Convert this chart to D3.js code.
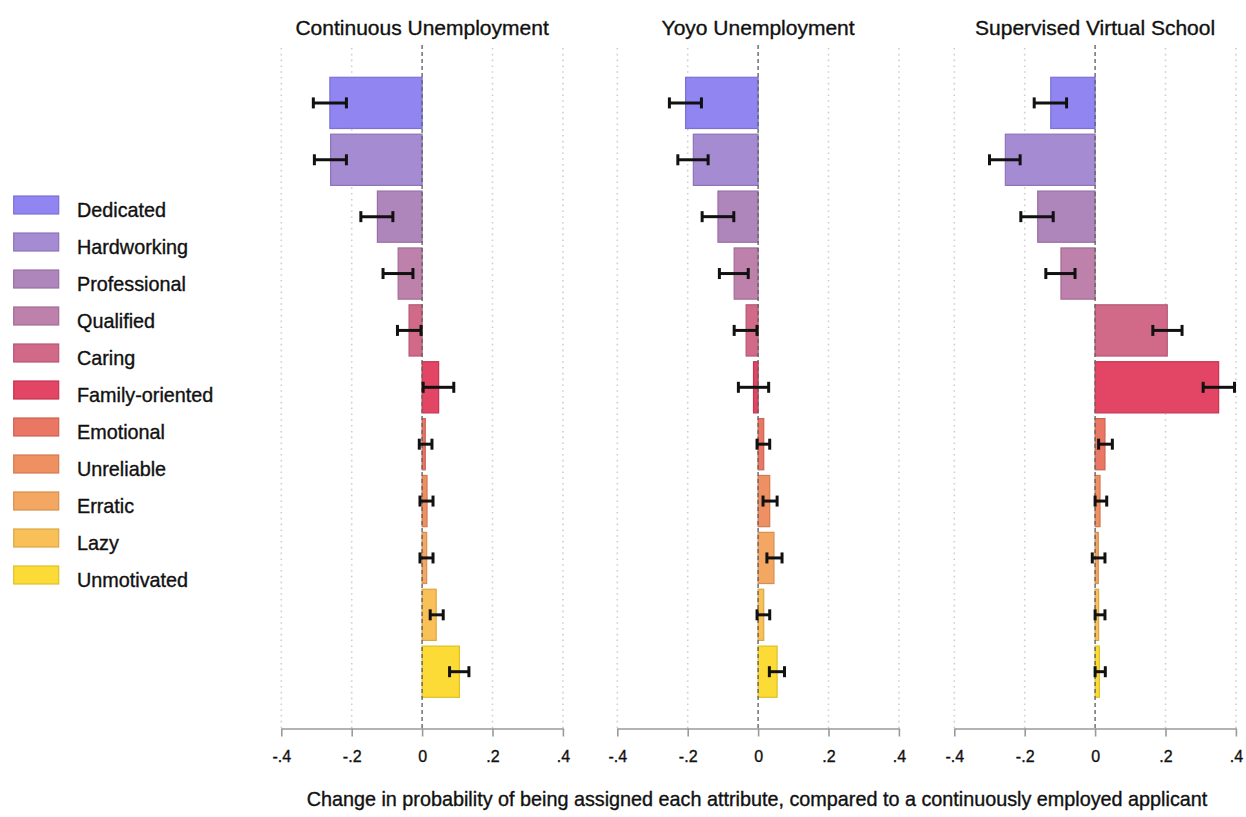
<!DOCTYPE html>
<html>
<head>
<meta charset="utf-8">
<script src="https://cdn.jsdelivr.net/npm/d3@7"></script>
<style>
  html, body { margin: 0; padding: 0; background: #fff; }
  svg { display: block; font-family: "Liberation Sans", Arial, Helvetica, sans-serif; }
  svg text { stroke: #111; stroke-width: 0.35px; }
</style>
</head>
<body>
<svg id="chart" width="1246" height="817"></svg>
<script>
// ---------- data ----------
const categories = ["Dedicated", "Hardworking", "Professional", "Qualified", "Caring",
  "Family-oriented", "Emotional", "Unreliable", "Erratic", "Lazy", "Unmotivated"];
const colors = ["#8b80f0", "#9f85d0", "#ab7fb8", "#b97aa6", "#cf6283", "#e23c5c",
  "#e8705c", "#ee8a5a", "#f3a25a", "#f8bd4e", "#fcd92c"];
const panelTitles = ["Continuous Unemployment", "Yoyo Unemployment", "Supervised Virtual School"];

// bar values per panel
const continuousValues = [-0.262, -0.260, -0.127, -0.068, -0.037, 0.047, 0.009, 0.014, 0.013, 0.040, 0.106];
const yoyoValues       = [-0.206, -0.184, -0.114, -0.068, -0.034, -0.013, 0.016, 0.033, 0.045, 0.016, 0.054];
const virtualValues    = [-0.126, -0.255, -0.163, -0.097, 0.205, 0.351, 0.028, 0.014, 0.009, 0.010, 0.012];

// error-bar intervals per panel
const continuousLow  = [-0.309, -0.306, -0.174, -0.111, -0.070, 0.003, -0.008, -0.006, -0.006, 0.023, 0.078];
const continuousHigh = [-0.215, -0.215, -0.083, -0.026, -0.003, 0.090, 0.028, 0.031, 0.031, 0.060, 0.133];
const yoyoLow        = [-0.252, -0.228, -0.159, -0.110, -0.068, -0.056, -0.003, 0.014, 0.025, -0.003, 0.032];
const yoyoHigh       = [-0.161, -0.142, -0.069, -0.028, -0.003, 0.030, 0.033, 0.054, 0.068, 0.033, 0.075];
const virtualLow     = [-0.173, -0.300, -0.211, -0.140, 0.164, 0.307, 0.010, 0.000, -0.008, 0.000, 0.000];
const virtualHigh    = [-0.081, -0.213, -0.119, -0.057, 0.247, 0.396, 0.049, 0.033, 0.028, 0.028, 0.029];

const tickValues = [-0.4, -0.2, 0, 0.2, 0.4];
const tickLabels = ["-.4", "-.2", "0", ".2", ".4"];
const xAxisTitle = "Change in probability of being assigned each attribute, compared to a continuously employed applicant";

const panels = [
  { title: panelTitles[0], values: continuousValues, low: continuousLow, high: continuousHigh },
  { title: panelTitles[1], values: yoyoValues, low: yoyoLow, high: yoyoHigh },
  { title: panelTitles[2], values: virtualValues, low: virtualLow, high: virtualHigh }
];

// ---------- layout ----------
const svg = d3.select("#chart");
const panelLeft = [281.3, 617.3, 954.3];
const panelWidth = 281.6;
const plotTop = 48, axisY = 728.5;

const y = d3.scaleBand().domain(categories).range([77.3, 697.3]).paddingInner(0.1).paddingOuter(0);
const color = d3.scaleOrdinal().domain(categories).range(colors);

panels.forEach((p, pi) => {
  const x = d3.scaleLinear().domain([-0.4, 0.4]).range([panelLeft[pi], panelLeft[pi] + panelWidth]);
  const g = svg.append("g");

  // dotted gridlines
  g.selectAll("line.grid").data(tickValues.filter(v => v !== 0)).join("line")
    .attr("class", "grid")
    .attr("x1", d => x(d)).attr("x2", d => x(d))
    .attr("y1", plotTop).attr("y2", axisY)
    .attr("stroke", "#cfcfcf").attr("stroke-width", 1.6)
    .attr("stroke-dasharray", "1.6,4.2");

  // title
  g.append("text")
    .attr("x", x(0)).attr("y", 35)
    .attr("text-anchor", "middle")
    .attr("font-size", 21).attr("fill", "#111")
    .text(p.title);

  const data = categories.map((c, i) => ({ c, v: p.values[i], lo: p.low[i], hi: p.high[i] }));

  // bars
  g.selectAll("rect.bar").data(data).join("rect")
    .attr("class", "bar")
    .attr("x", d => x(Math.min(0, d.v)))
    .attr("width", d => Math.abs(x(d.v) - x(0)))
    .attr("y", d => y(d.c))
    .attr("height", y.bandwidth())
    .attr("fill", d => color(d.c))
    .attr("fill-opacity", 0.95)
    .attr("stroke", d => d3.color(color(d.c)).darker(0.35))
    .attr("stroke-width", 1.2);

  // zero dashed line
  g.append("line")
    .attr("x1", x(0)).attr("x2", x(0))
    .attr("y1", plotTop - 3).attr("y2", axisY)
    .attr("stroke", "#666").attr("stroke-width", 1.4)
    .attr("stroke-dasharray", "4,3");

  // error bars
  const eb = g.selectAll("g.err").data(data).join("g").attr("class", "err");
  eb.append("line")
    .attr("x1", d => x(d.lo)).attr("x2", d => x(d.hi))
    .attr("y1", d => y(d.c) + y.bandwidth() / 2).attr("y2", d => y(d.c) + y.bandwidth() / 2)
    .attr("stroke", "#111").attr("stroke-width", 3);
  ["lo", "hi"].forEach(k => {
    eb.append("line")
      .attr("x1", d => x(d[k])).attr("x2", d => x(d[k]))
      .attr("y1", d => y(d.c) + y.bandwidth() / 2 - 5.5).attr("y2", d => y(d.c) + y.bandwidth() / 2 + 5.5)
      .attr("stroke", "#111").attr("stroke-width", 3);
  });

  // axis
  const axis = d3.axisBottom(x)
    .tickValues(tickValues)
    .tickFormat((d, i) => tickLabels[i])
    .tickSizeInner(8).tickSizeOuter(0).tickPadding(14.6);
  const ag = g.append("g").attr("transform", `translate(0,${axisY})`).call(axis);
  ag.select(".domain").attr("stroke", "#9a9a9a").attr("stroke-width", 1.6);
  ag.selectAll(".tick line").attr("stroke", "#9a9a9a").attr("stroke-width", 1.6);
  ag.selectAll(".tick text").attr("font-size", 16).attr("fill", "#111")
    .attr("font-family", "'Liberation Sans', Arial, sans-serif");
});

// x-axis title
svg.append("text")
  .attr("x", 757).attr("y", 806)
  .attr("text-anchor", "middle")
  .attr("font-size", 19.8).attr("fill", "#111")
  .text(xAxisTitle);

// legend
const legend = svg.append("g");
const lg = legend.selectAll("g").data(categories).join("g")
  .attr("transform", (d, i) => `translate(13.7,${196 + i * 37})`);
lg.append("rect")
  .attr("width", 45).attr("height", 18)
  .attr("fill", d => color(d)).attr("fill-opacity", 0.95)
  .attr("stroke", d => d3.color(color(d)).darker(0.35)).attr("stroke-width", 1.2);
lg.append("text")
  .attr("x", 63.3).attr("y", 20.7)
  .attr("font-size", 19.8).attr("fill", "#111")
  .text(d => d);
</script>
</body>
</html>
